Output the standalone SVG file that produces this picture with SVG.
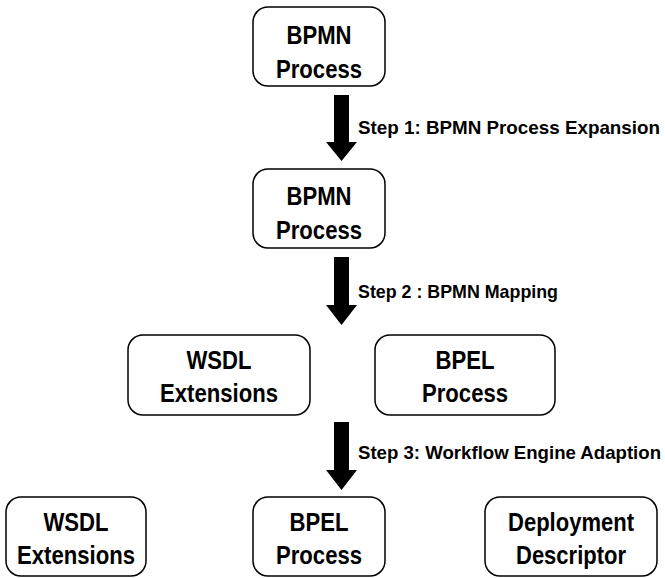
<svg xmlns="http://www.w3.org/2000/svg" width="665" height="578" viewBox="0 0 665 578">
<style>
.box{fill:#fff;stroke:#000;stroke-width:1.5}
.t{font-family:"Liberation Sans",Arial,sans-serif;font-weight:bold;font-size:26px;text-anchor:middle;fill:#000}
.lbl{font-family:"Liberation Sans",Arial,sans-serif;font-weight:bold;font-size:18.5px;fill:#000}
.arr{fill:#000}
</style>
<rect width="665" height="578" fill="#fff"/>
<g id="connectors">
<polygon class="arr" points="334,95 349,95 349,142 357,142 341.5,161 326,142 334,142"/>
<polygon class="arr" points="334,257 349,257 349,305 357,305 341.5,325 326,305 334,305"/>
<polygon class="arr" points="334,422 349,422 349,470 357,470 341.5,490 326,470 334,470"/>
<text class="lbl" x="358" y="134" textLength="302" lengthAdjust="spacingAndGlyphs">Step 1: BPMN Process Expansion</text>
<text class="lbl" x="358" y="298" textLength="200" lengthAdjust="spacingAndGlyphs">Step 2 : BPMN Mapping</text>
<text class="lbl" x="358" y="459" textLength="303" lengthAdjust="spacingAndGlyphs">Step 3: Workflow Engine Adaption</text>
</g>
<g id="bpmn1">
<rect class="box" x="253" y="7" width="132" height="79" rx="15"/>
<text class="t" x="319" y="44" textLength="65" lengthAdjust="spacingAndGlyphs">BPMN</text>
<text class="t" x="319" y="78" textLength="86" lengthAdjust="spacingAndGlyphs">Process</text>
</g>
<g id="bpmn2">
<rect class="box" x="253" y="169" width="132" height="79" rx="15"/>
<text class="t" x="319" y="205" textLength="65" lengthAdjust="spacingAndGlyphs">BPMN</text>
<text class="t" x="319" y="239" textLength="86" lengthAdjust="spacingAndGlyphs">Process</text>
</g>
<g id="wsdl1">
<rect class="box" x="128" y="335" width="182" height="80" rx="15"/>
<text class="t" x="219" y="369" textLength="65" lengthAdjust="spacingAndGlyphs">WSDL</text>
<text class="t" x="219" y="402" textLength="118" lengthAdjust="spacingAndGlyphs">Extensions</text>
</g>
<g id="bpel1">
<rect class="box" x="375" y="335" width="180" height="80" rx="15"/>
<text class="t" x="465" y="369" textLength="59" lengthAdjust="spacingAndGlyphs">BPEL</text>
<text class="t" x="465" y="402" textLength="86" lengthAdjust="spacingAndGlyphs">Process</text>
</g>
<g id="wsdl2">
<rect class="box" x="6" y="497" width="140" height="79" rx="15"/>
<text class="t" x="76" y="531" textLength="65" lengthAdjust="spacingAndGlyphs">WSDL</text>
<text class="t" x="76" y="564" textLength="118" lengthAdjust="spacingAndGlyphs">Extensions</text>
</g>
<g id="bpel2">
<rect class="box" x="253" y="497" width="132" height="79" rx="15"/>
<text class="t" x="319" y="531" textLength="59" lengthAdjust="spacingAndGlyphs">BPEL</text>
<text class="t" x="319" y="564" textLength="86" lengthAdjust="spacingAndGlyphs">Process</text>
</g>
<g id="deploy">
<rect class="box" x="485" y="497" width="172" height="79" rx="15"/>
<text class="t" x="571" y="531" textLength="126" lengthAdjust="spacingAndGlyphs">Deployment</text>
<text class="t" x="571" y="564" textLength="110" lengthAdjust="spacingAndGlyphs">Descriptor</text>
</g>
</svg>
